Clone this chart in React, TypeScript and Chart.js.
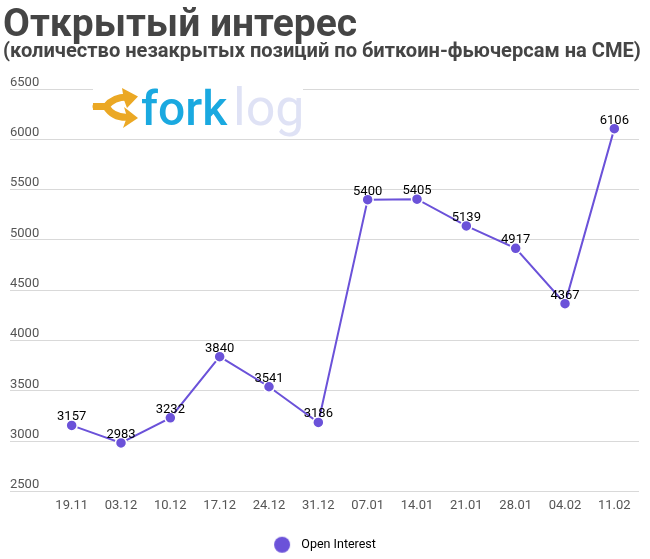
import React, { useEffect, useRef } from "react";
import { Chart, registerables } from "chart.js";

Chart.register(...registerables);

const categories = ["19.11","03.12","10.12","17.12","24.12","31.12","07.01","14.01","21.01","28.01","04.02","11.02"];
const openInterest = [3157,2983,3232,3840,3541,3186,5400,5405,5139,4917,4367,6106];
const titleText = "Открытый интерес";
const subtitleText = "(количество незакрытых позиций по биткоин-фьючерсам на CME)";
const seriesName = "Open Interest";
const FONT = "Roboto";
const PURPLE = "#6b52d9";
const ORANGE = "#eba824";

const texts = {
  id: "texts",
  afterDraw(chart: any) {
    const { ctx } = chart;
    const meta = chart.getDatasetMeta(0);
    ctx.save();
    ctx.textBaseline = "alphabetic";
    ctx.fillStyle = "#454545";
    ctx.textAlign = "left";
    ctx.font = `bold 39px ${FONT}`;
    ctx.fillText(titleText, 3, 36);
    ctx.font = `bold 20.1px ${FONT}`;
    ctx.fillText(subtitleText, 3, 57);
    ctx.fillStyle = "#000";
    ctx.textAlign = "center";
    ctx.font = `13px ${FONT}`;
    meta.data.forEach((p: any, i: number) => {
      ctx.fillText(String(openInterest[i]), p.x, p.y - 5);
    });
    ctx.restore();
  },
};

const logo = {
  id: "logo",
  beforeDatasetsDraw(chart: any) {
    const { ctx } = chart;
    ctx.save();
    ctx.fillStyle = "#fff";
    ctx.fillRect(93, 85, 210, 54);
    ctx.strokeStyle = ORANGE;
    ctx.fillStyle = ORANGE;
    ctx.lineWidth = 7;
    ctx.lineCap = "round";
    ctx.beginPath();
    ctx.moveTo(96, 106.5);
    ctx.lineTo(106, 106.5);
    ctx.quadraticCurveTo(114, 96, 130, 97);
    ctx.moveTo(106, 106.5);
    ctx.quadraticCurveTo(114, 119, 130, 117);
    ctx.stroke();
    ctx.beginPath();
    ctx.moveTo(122, 88); ctx.lineTo(138, 96.5); ctx.lineTo(127, 108); ctx.lineTo(124, 100); ctx.closePath();
    ctx.moveTo(124, 107); ctx.lineTo(138, 118); ctx.lineTo(123, 128); ctx.lineTo(127, 117); ctx.closePath();
    ctx.moveTo(93, 103); ctx.lineTo(100, 103); ctx.lineTo(100, 110); ctx.lineTo(93, 110); ctx.closePath();
    ctx.fill();
    ctx.textBaseline = "alphabetic";
    ctx.textAlign = "left";
    ctx.font = `500 48px ${FONT}`;
    ctx.fillStyle = "#1aa9e0";
    ctx.fillText("fork", 141, 125);
    ctx.font = `400 52px ${FONT}`;
    ctx.fillStyle = "#dfe2f5";
    ctx.fillText("log", 233, 125);
    ctx.restore();
  },
};

function legendDot() {
  const c = document.createElement("canvas");
  c.width = 22;
  c.height = 18;
  const g = c.getContext("2d")!;
  g.fillStyle = PURPLE;
  g.beginPath();
  g.arc(9, 9, 8, 0, Math.PI * 2);
  g.fill();
  return c;
}

export default function App() {
  const ref = useRef<HTMLCanvasElement>(null);
  useEffect(() => {
    const dot = legendDot();
    const chart = new Chart(ref.current!, {
      type: "line",
      data: {
        labels: categories,
        datasets: [{
          label: seriesName,
          data: openInterest,
          borderColor: PURPLE,
          backgroundColor: PURPLE,
          pointBackgroundColor: PURPLE,
          pointBorderColor: "#fff",
          pointBorderWidth: 1.5,
          borderWidth: 2,
          pointRadius: 5.5,
          tension: 0,
          fill: false,
        }],
      },
      options: {
        animation: false,
        responsive: false,
        devicePixelRatio: 1,
        layout: { padding: { left: 10, right: 11, top: 89, bottom: -2 } },
        plugins: {
          title: { display: false },
          tooltip: { enabled: false },
          legend: {
            position: "bottom",
            labels: {
              usePointStyle: true,
              pointStyleWidth: 22,
              boxHeight: 11,
              padding: 6,
              color: "#555",
              font: { family: FONT, size: 12.5 },
              generateLabels: () => [{
                text: seriesName,
                fillStyle: PURPLE,
                strokeStyle: PURPLE,
                lineWidth: 0,
                pointStyle: dot,
                datasetIndex: 0,
              }],
            },
          },
        },
        scales: {
          x: {
            offset: true,
            afterFit(scale: any) { scale.height = 41; },
            grid: { display: false, drawTicks: false },
            border: { display: false },
            ticks: { color: "#555", font: { family: FONT, size: 13 }, maxRotation: 0, padding: 6 },
          },
          y: {
            min: 2500,
            max: 6500,
            afterFit(scale: any) { scale.width = 37; },
            border: { display: false },
            grid: { color: "#d9d9d9", lineWidth: 1, tickLength: 37, tickColor: "#d9d9d9" },
            ticks: {
              stepSize: 500,
              color: "#555",
              font: { family: FONT, size: 13 },
              crossAlign: "far",
              labelOffset: -6.5,
              padding: 0,
              callback: (v: any) => String(v),
            },
          },
        },
      },
      plugins: [logo, texts],
    } as any);
    return () => chart.destroy();
  }, []);
  return (
    <div style={{ position: "absolute", left: 0, top: 0, width: 650, height: 559 }}>
      <canvas ref={ref} width={650} height={559} style={{ display: "block" }} />
    </div>
  );
}
